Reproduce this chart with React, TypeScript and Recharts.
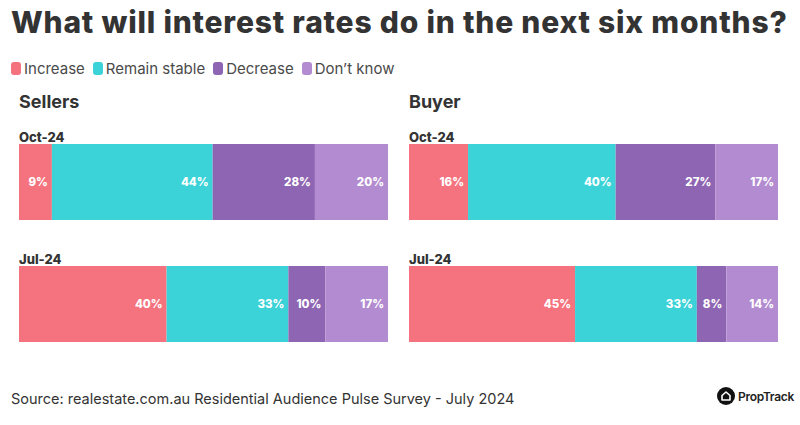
import { BarChart, Bar, XAxis, YAxis, LabelList } from 'recharts';

const periods = ['Oct-24', 'Jul-24'];
const seriesNames = ['Increase', 'Remain stable', 'Decrease', "Don\u2019t know"];
const seriesKeys = ['increase', 'stable', 'decrease', 'dontKnow'];
const seriesColors = ['#F4737E', '#3BD3D8', '#8E65B2', '#B28BD0'];

// values in %, one entry per period
const sellersIncrease = [9, 40];
const sellersStable = [44, 33];
const sellersDecrease = [28, 10];
const sellersDontKnow = [20, 17];

const buyerIncrease = [16, 45];
const buyerStable = [40, 33];
const buyerDecrease = [27, 8];
const buyerDontKnow = [17, 14];

const FONT = 'Inter, "Noto Sans", sans-serif';

function buildRows(inc: number[], sta: number[], dec: number[], dk: number[]) {
    return periods.map((period, i) => ({
        period,
        increase: inc[i],
        stable: sta[i],
        decrease: dec[i],
        dontKnow: dk[i],
    }));
}

const sellersData = buildRows(sellersIncrease, sellersStable, sellersDecrease, sellersDontKnow);
const buyerData = buildRows(buyerIncrease, buyerStable, buyerDecrease, buyerDontKnow);

const BAR_SIZE = 76;

// period name drawn just above the start of each stacked bar
function PeriodLabel(props: any) {
    const { x, y, value } = props;
    return (
        <text x={x} y={y - 2} fill="#333" fontFamily={FONT} fontSize={13} fontWeight={800}>
            {value}
        </text>
    );
}

function Panel({ title, data, left }: { title: string; data: any[]; left: number }) {
    return (
        <>
            <div style={{ position: 'absolute', left, top: 91, fontSize: 18, fontWeight: 700, color: '#333', fontFamily: FONT }}>
                {title}
            </div>
            <div style={{ position: 'absolute', left, top: 121 }}>
                <BarChart
                    width={369}
                    height={244}
                    data={data}
                    layout="vertical"
                    stackOffset="expand"
                    barCategoryGap={46}
                    margin={{ top: 0, right: 0, bottom: 0, left: 0 }}
                >
                    <XAxis type="number" hide domain={[0, 1]} />
                    <YAxis type="category" dataKey="period" hide />
                    {seriesKeys.map((key, i) => (
                        <Bar key={key} dataKey={key} stackId="a" fill={seriesColors[i]} barSize={BAR_SIZE} isAnimationActive={false}>
                            <LabelList
                                dataKey={key}
                                position="insideRight"
                                offset={4}
                                formatter={(v: any) => `${v}%`}
                                fill="#fff"
                                fontFamily={FONT}
                                fontSize={11.5}
                                fontWeight={800}
                            />
                            {i === 0 && <LabelList dataKey="period" content={<PeriodLabel />} />}
                        </Bar>
                    ))}
                </BarChart>
            </div>
        </>
    );
}

export default function App() {
    return (
        <div style={{ position: 'fixed', left: 0, top: 0, width: 800, height: 425, background: '#fff', fontFamily: FONT, overflow: 'hidden' }}>
            <div style={{ position: 'absolute', left: 11, top: 4, fontSize: 30, fontWeight: 800, color: '#333', whiteSpace: 'nowrap', letterSpacing: 0.8 }}>
                What will interest rates do in the next six months?
            </div>
            <div style={{ position: 'absolute', left: 11, top: 59, display: 'flex', alignItems: 'center', fontSize: 15, color: '#4a4a4a' }}>
                {seriesNames.map((name, i) => (
                    <div key={name} style={{ display: 'flex', alignItems: 'center', marginRight: 8 }}>
                        <span style={{ display: 'inline-block', width: 10, height: 13, borderRadius: 3, background: seriesColors[i], marginRight: 3 }} />
                        <span>{name}</span>
                    </div>
                ))}
            </div>
            <Panel title="Sellers" data={sellersData} left={19} />
            <Panel title="Buyer" data={buyerData} left={409} />
            <div style={{ position: 'absolute', left: 11, top: 390, fontSize: 14.5, color: '#333' }}>
                Source: realestate.com.au Residential Audience Pulse Survey - July 2024
            </div>
            <div style={{ position: 'absolute', left: 717, top: 387, display: 'flex', alignItems: 'center' }}>
                <svg width={18} height={18} viewBox="0 0 18 18">
                    <circle cx={9} cy={9} r={9} fill="#111" />
                    <path d="M5 13 V8.5 L9 5 L13 8.5 V13 Z" fill="none" stroke="#fff" strokeWidth={1.6} strokeLinejoin="round" />
                </svg>
                <span style={{ marginLeft: 3, fontSize: 12, fontWeight: 600, color: '#222', letterSpacing: -0.3 }}>PropTrack</span>
            </div>
        </div>
    );
}
